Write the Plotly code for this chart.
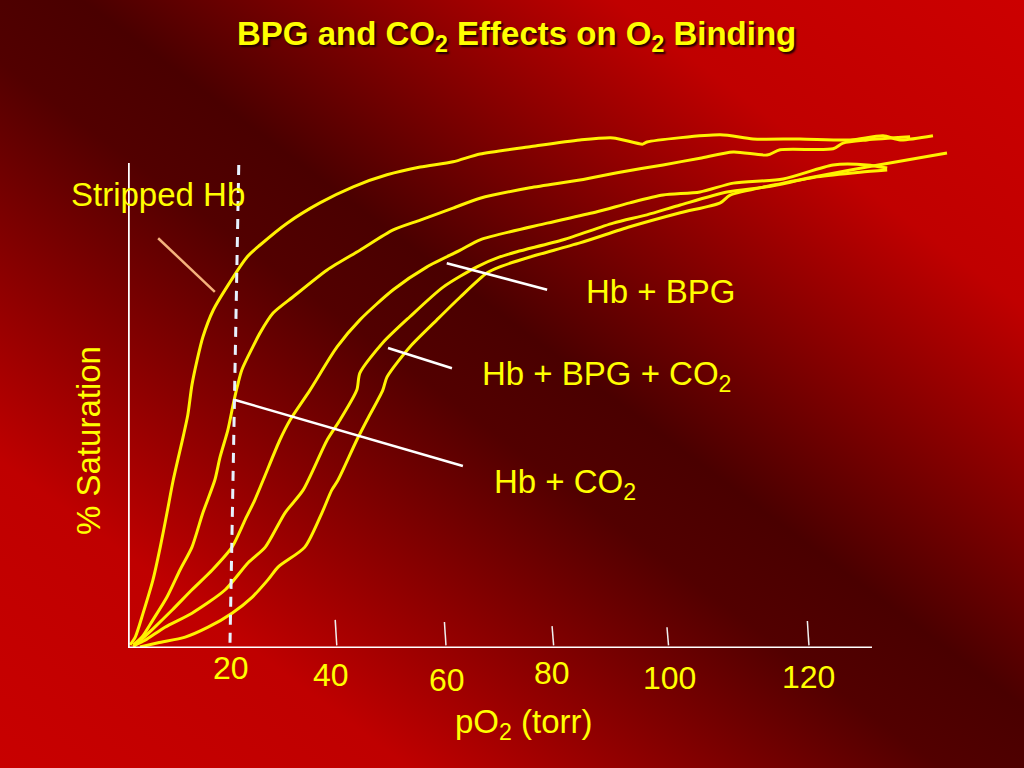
import base64
import plotly.graph_objects as go

# ---------------- data ----------------
# pO2 in torr, saturation in %
stripped_po2 = [0.4, 1.4, 2.9, 4.8, 6.2, 7.5, 8.7, 10.6, 11.5, 12.3, 13.3, 14.4, 16.4, 19.0, 22.9, 25.4,
                30.6, 36.9, 43.3, 49.8, 56.2, 62.5, 67.7, 77.3, 86.9, 93.3, 99.0, 99.8, 113.9, 120.2,
                129.2, 138.9, 145.2, 148.5, 154.8]
stripped_sat = [0.6, 2.1, 6.7, 13.1, 19.4, 26.0, 32.3, 40.6, 44.8, 50.6, 55.4, 59.8, 65.0, 69.4, 75.2, 77.5,
                81.7, 85.6, 88.7, 91.0, 92.5, 93.5, 95.0, 96.4, 97.7, 98.1, 96.9, 97.3, 98.7, 97.9,
                97.9, 97.7, 98.5, 97.7, 98.5]

co2_po2 = [1.0, 2.7, 4.8, 7.5, 10.0, 12.3, 14.4, 16.7, 17.7, 19.2, 20.2, 21.0, 21.9, 24.0, 25.4, 27.9,
           31.7, 38.3, 44.6, 51.0, 56.2, 62.5, 67.7, 77.3, 86.9, 94.6, 102.9, 110.0, 116.4, 122.9,
           125.4, 135.6, 137.5, 142.1, 150.4]
co2_sat = [0.6, 2.1, 5.4, 9.8, 15.0, 19.4, 26.0, 32.3, 36.7, 41.9, 46.7, 50.2, 53.5, 57.9, 60.6, 64.4,
           67.5, 72.7, 76.5, 80.4, 82.3, 84.6, 86.5, 88.5, 90.0, 91.5, 92.9, 94.2, 95.4, 94.8,
           95.8, 96.0, 97.1, 97.7, 98.3]

bpg_po2 = [1.0, 4.6, 8.5, 12.3, 16.2, 20.0, 22.5, 24.4, 26.0, 29.2, 31.2, 35.0, 40.2, 44.6, 51.0, 57.5,
           63.9, 67.7, 80.6, 90.2, 96.5, 102.9, 110.0, 116.4, 126.0, 135.6, 142.1, 146.0]
bpg_sat = [0.2, 3.5, 7.3, 11.2, 15.0, 19.4, 24.6, 28.5, 32.3, 40.0, 43.9, 49.6, 57.9, 63.1, 68.9, 73.3,
           76.5, 78.5, 81.7, 83.9, 85.6, 87.1, 87.7, 89.4, 90.2, 92.9, 92.9, 92.3]

bpg_co2_po2 = [1.4, 3.3, 7.1, 12.3, 18.7, 23.1, 26.4, 30.2, 33.7, 38.3, 40.8, 44.0, 44.6, 49.0, 54.2,
               60.6, 67.1, 71.5, 74.8, 83.7, 93.3, 99.8, 106.2, 115.2, 122.9, 132.5, 140.8, 146.0]
bpg_co2_sat = [0.6, 1.5, 4.0, 6.7, 11.2, 16.4, 19.4, 26.0, 30.4, 40.0, 43.9, 49.6, 52.9, 58.7, 63.7,
               69.4, 73.3, 75.2, 76.2, 78.5, 81.7, 83.3, 85.2, 87.7, 88.7, 90.6, 91.5, 91.9]

fifth_po2 = [2.3, 5.8, 11.0, 15.4, 20.0, 23.9, 26.9, 28.9, 34.0, 37.3, 39.2, 40.4, 44.0, 46.0, 49.0,
             49.8, 54.2, 59.4, 63.9, 69.0, 71.5, 77.3, 86.9, 96.5, 106.2, 113.9, 115.8, 126.0, 142.1, 157.5]
fifth_sat = [0.2, 1.0, 2.1, 4.0, 6.7, 9.8, 13.1, 15.6, 19.4, 26.0, 30.4, 32.3, 40.0, 43.9, 49.6,
             52.1, 57.9, 63.1, 67.5, 72.1, 73.3, 75.2, 77.9, 81.0, 83.7, 85.6, 87.1, 89.4, 92.5, 95.2]

series_names = ["Stripped Hb", "Hb + CO\u2082", "Hb + BPG", "Hb + BPG + CO\u2082", "Hb + BPG + CO\u2082 (b)"]
series_x = [stripped_po2, co2_po2, bpg_po2, bpg_co2_po2, fifth_po2]
series_y = [stripped_sat, co2_sat, bpg_sat, bpg_co2_sat, fifth_sat]

# hand-drawn axis ticks (torr) and their drawn heights (%)
tick_marks_x = [40.0, 61.0, 81.7, 103.8, 130.8]
tick_marks_top = [5.4, 5.0, 4.2, 4.0, 5.2]

# tick labels as drawn
tick_labels = ["20", "40", "60", "80", "100", "120"]
tick_label_x = [19.8, 39.0, 61.3, 81.5, 104.2, 130.8]
tick_label_y = [-3.85, -5.2, -6.15, -4.8, -5.8, -5.6]

# ---------------- layout helpers ----------------
W, H = 1024, 768
ML, MR, MT, MB = 128, 64, 120, 120
PW, PH = W - ML - MR, H - MT - MB
X_RANGE = [0, PW / 5.2]
Y_RANGE = [0, PH / 5.2]


def pxx(px):
    return (px - ML) / PW


def pxy(py):
    return (H - MB - py) / PH


FONT = "Liberation Sans, Arial, Helvetica, sans-serif"
YEL = "#ffff00"
CURVE = "#fff200"

# background gradient as svg image
svg = (
    '<svg xmlns="http://www.w3.org/2000/svg" width="1024" height="768" preserveAspectRatio="none">'
    '<defs><linearGradient id="g" x1="0" y1="1" x2="1" y2="0">'
    '<stop offset="0" stop-color="#c80000"/>'
    '<stop offset="0.2" stop-color="#bf0000"/>'
    '<stop offset="0.46" stop-color="#520000"/>'
    '<stop offset="0.54" stop-color="#4a0000"/>'
    '<stop offset="0.8" stop-color="#c00000"/>'
    '<stop offset="1" stop-color="#cc0000"/>'
    '</linearGradient></defs>'
    '<rect x="0" y="0" width="1024" height="768" fill="url(#g)"/></svg>'
)
svg_uri = "data:image/svg+xml;base64," + base64.b64encode(svg.encode()).decode()

fig = go.Figure()
for name, xs, ys in zip(series_names, series_x, series_y):
    fig.add_trace(go.Scatter(x=xs, y=ys, mode="lines", name=name,
                             line=dict(color=CURVE, width=3, shape="spline", smoothing=0.7),
                             hoverinfo="skip"))

shapes = []
# axes
shapes.append(dict(type="line", xref="x", yref="y", x0=0.1, x1=0.1, y0=0, y1=(H - MB - 163) / 5.2,
                   line=dict(color="#ffffff", width=2.5)))
shapes.append(dict(type="line", xref="x", yref="y", x0=0, x1=(872 - ML) / 5.2, y0=0, y1=0,
                   line=dict(color="#ffffff", width=3)))
# tick marks
for tx, tt in zip(tick_marks_x, tick_marks_top):
    shapes.append(dict(type="line", xref="x", yref="y", x0=tx - 0.15, x1=tx + 0.15, y0=tt, y1=0.5,
                       line=dict(color="#f0f0f0", width=1.5)))
# dashed line at 20 torr
shapes.append(dict(type="line", xref="x", yref="y", x0=21.3, x1=19.6, y0=92.9, y1=0.2,
                   line=dict(color="#e6f2ff", width=3, dash="10px,8px")))
# pointer lines
pointers = [((61.3, 74.0), (80.6, 68.9), "#ffffff"),
            ((50.0, 57.7), (62.3, 53.8), "#ffffff"),
            ((20.6, 47.7), (64.4, 35.0), "#ffffff"),
            ((5.8, 78.8), (16.7, 68.5), "#f4b27c")]
for (x0, y0), (x1, y1), c in pointers:
    shapes.append(dict(type="line", xref="x", yref="y", x0=x0, y0=y0, x1=x1, y1=y1,
                       line=dict(color=c, width=2.5)))

annotations = []


def ann(text, px, py, size=33, bold=False, angle=0, shadow=None):
    f = dict(family=FONT, size=size, color=YEL)
    if bold:
        f["weight"] = "bold"
    if shadow:
        f["shadow"] = shadow
    annotations.append(dict(text=text, xref="paper", yref="paper", x=pxx(px), y=pxy(py),
                            xanchor="center", yanchor="middle", showarrow=False,
                            textangle=angle, font=f))


ann("BPG and CO<sub>2</sub> Effects on O<sub>2</sub> Binding", 516, 36, size=33, bold=True,
    shadow="2px 2px 2px #200000")
ann("Stripped Hb", 158, 194)
ann("Hb + BPG", 660, 291)
ann("Hb + BPG + CO<sub>2</sub>", 606, 376)
ann("Hb + CO<sub>2</sub>", 565, 484)
ann("% Saturation", 88, 441, angle=-90)
ann("pO<sub>2</sub> (torr)", 524, 724)

# tick labels: convert drawn torr / % positions to paper fractions
for lab, lx, ly in zip(tick_labels, tick_label_x, tick_label_y):
    annotations.append(dict(text=lab, xref="paper", yref="paper",
                            x=(lx - X_RANGE[0]) / (X_RANGE[1] - X_RANGE[0]),
                            y=(ly - Y_RANGE[0]) / (Y_RANGE[1] - Y_RANGE[0]),
                            xanchor="center", yanchor="middle", showarrow=False,
                            font=dict(family=FONT, size=32, color=YEL)))

fig.update_layout(
    width=W, height=H, autosize=False,
    margin=dict(l=ML, r=MR, t=MT, b=MB, pad=0),
    paper_bgcolor="#7a0000", plot_bgcolor="rgba(0,0,0,0)",
    showlegend=False,
    xaxis=dict(range=X_RANGE, visible=False, fixedrange=True),
    yaxis=dict(range=Y_RANGE, visible=False, fixedrange=True),
    shapes=shapes, annotations=annotations,
    images=[dict(source=svg_uri, xref="paper", yref="paper",
                 x=-ML / PW, y=1 + MT / PH, sizex=W / PW, sizey=H / PH,
                 xanchor="left", yanchor="top", sizing="stretch", layer="below")],
)

fig.write_html("out.html", config={"displayModeBar": False, "staticPlot": True},
               post_script="document.body.style.margin='0';document.body.style.padding='0';")
